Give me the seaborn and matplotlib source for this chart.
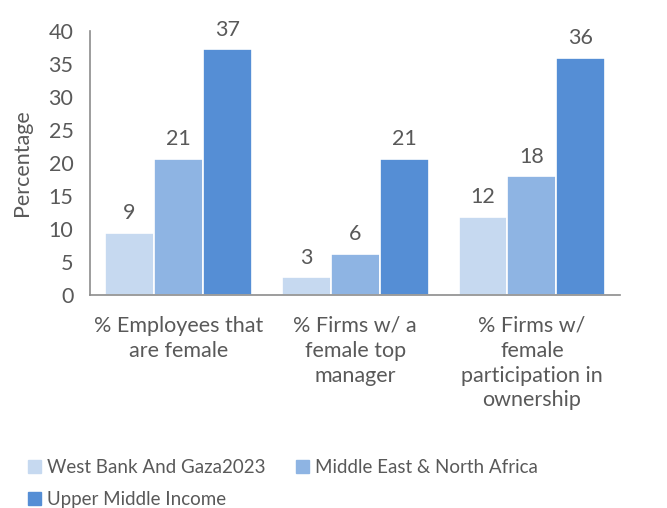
import pandas as pd
import matplotlib.pyplot as plt
import seaborn as sns

# chart data
categories = ["% Employees that\nare female",
              "% Firms w/ a\nfemale top\nmanager",
              "% Firms w/\nfemale\nparticipation in\nownership"]
series = ["West Bank And Gaza2023", "Middle East & North Africa", "Upper Middle Income"]
wbg = [9.4, 2.7, 11.8]
mena = [20.6, 6.2, 18.0]
umi = [37.2, 20.6, 35.9]
colors = ["#C6D9F0", "#8EB4E3", "#558ED5"]

rows = []
for s, vals in zip(series, [wbg, mena, umi]):
    for c, v in zip(categories, vals):
        rows.append({"category": c, "series": s, "value": v})
df = pd.DataFrame(rows)

sns.set_style("white")
plt.rcParams["font.family"] = ["Lato", "DejaVu Sans"]
text_col = "#595959"
fs = 15.5

fig = plt.figure(figsize=(6.67, 5.08), dpi=100)
ax = fig.add_axes([0.135, 0.419, 0.795, 0.52])

sns.barplot(data=df, x="category", y="value", hue="series", palette=colors,
            saturation=1, width=0.83, edgecolor="white", linewidth=1.2,
            ax=ax, legend=False)

for cont in ax.containers:
    ax.bar_label(cont, labels=[f"{round(b.get_height()):d}" for b in cont],
                 padding=7, fontsize=fs, color=text_col)

ax.set_ylim(0, 40)
ax.set_yticks(range(0, 41, 5))
ax.set_xlim(-0.5, 2.5)
ax.set_xlabel("")
ax.set_ylabel("Percentage", fontsize=fs, color=text_col)
ax.yaxis.set_label_coords(-0.11, 0.5)
ax.tick_params(axis="both", length=0, labelsize=fs, labelcolor=text_col)
ax.tick_params(axis="x", pad=15)
ax.tick_params(axis="y", pad=12)
for lab in ax.get_xticklabels():
    lab.set_linespacing(1.3)
for sp in ["top", "right"]:
    ax.spines[sp].set_visible(False)
for sp in ["left", "bottom"]:
    ax.spines[sp].set_color("#8c8c8c")
    ax.spines[sp].set_linewidth(1.2)

# legend fills column-wise, so order items to read row-wise
handles = [plt.Rectangle((0, 0), 1, 1, color=c) for c in colors]
order = [0, 2, 1]
fig.legend([handles[i] for i in order], [series[i] for i in order],
           loc="lower left", bbox_to_anchor=(0.03, -0.015),
           ncol=2, frameon=False, fontsize=13.5, labelcolor=text_col,
           handlelength=0.7, handleheight=0.7, handletextpad=0.35,
           columnspacing=1.6, labelspacing=0.8, borderaxespad=0)

fig.savefig("out.png", dpi=100)
